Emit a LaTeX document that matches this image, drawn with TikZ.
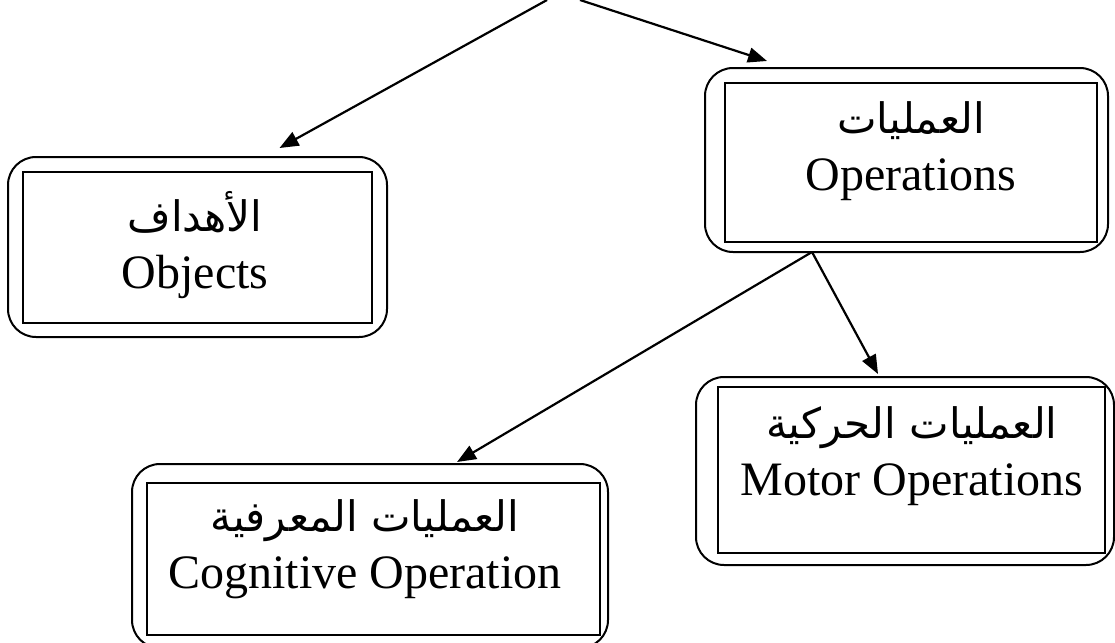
\documentclass[tikz,border=0pt]{standalone}
\usepackage{fontspec}
\setmainfont{Liberation Serif}
\newfontfamily\arabicfont[Script=Arabic]{DejaVu Sans}
\TeXXeTstate=1
\usetikzlibrary{arrows.meta, positioning}

\begin{document}
\begin{tikzpicture}[x=1pt, y=-1pt,
                    >={Triangle[length=19pt,width=15pt]},
                    outerbox/.style={draw, rounded corners=28pt, line width=2pt, inner sep=0pt},
                    innerbox/.style={draw, rectangle, line width=1.7pt, inner sep=0pt},
                    boxtext/.style={align=center, inner sep=0pt, font=\fontsize{48}{57}\selectfont},
                    link/.style={->, line width=2.2pt}]

\useasboundingbox (0,0) rectangle (1115,642);

% Boxes
\node (objframe) [outerbox, minimum width=379pt, minimum height=180pt] at (197.5,247) {};
\node (objbox) [innerbox, minimum width=349pt, minimum height=151pt] at (197.5,247.5) {};
\node (objtext) [boxtext] at (195,245) {{\arabicfont\fontsize{42}{57}\selectfont\beginR الأهداف\endR}\\Objects};

\node (opsframe) [outerbox, minimum width=403pt, minimum height=184pt] at (906.5,160) {};
\node (opsbox) [innerbox, minimum width=372pt, minimum height=159pt] at (911,162.5) {};
\node (opstext) [boxtext] at (911,151) {{\arabicfont\fontsize{42}{57}\selectfont\beginR العمليات\endR}\\Operations};

\node (motframe) [outerbox, minimum width=418pt, minimum height=188pt] at (905,471) {};
\node (motbox) [innerbox, minimum width=387pt, minimum height=166pt] at (911.5,470) {};
\node (mottext) [boxtext] at (912,456) {{\arabicfont\fontsize{42}{57}\selectfont\beginR العمليات الحركية\endR}\\Motor Operations};

\node (cogframe) [outerbox, minimum width=476pt, minimum height=184pt] at (370,556) {};
\node (cogbox) [innerbox, minimum width=453pt, minimum height=152pt] at (373.5,559) {};
\node (cogtext) [boxtext] at (365,549) {{\arabicfont\fontsize{42}{57}\selectfont\beginR العمليات المعرفية\endR}\\Cognitive Operation};

% Top ends (cut off above)
\coordinate (rootl) at (547,0);
\coordinate (rootr) at (580,0);
\coordinate (split) at (812,252);

% Arrows
\draw[link] (rootl) -- ([xshift=82pt,yshift=8pt]objframe.north);
\draw[link] (rootr) -- ([xshift=-139.5pt,yshift=6pt]opsframe.north);
\draw[link] (split) -- ([xshift=87pt,yshift=1pt]cogframe.north);
\draw[link] (split) -- ([xshift=-27pt,yshift=2pt]motframe.north);

\end{tikzpicture}
\end{document}
